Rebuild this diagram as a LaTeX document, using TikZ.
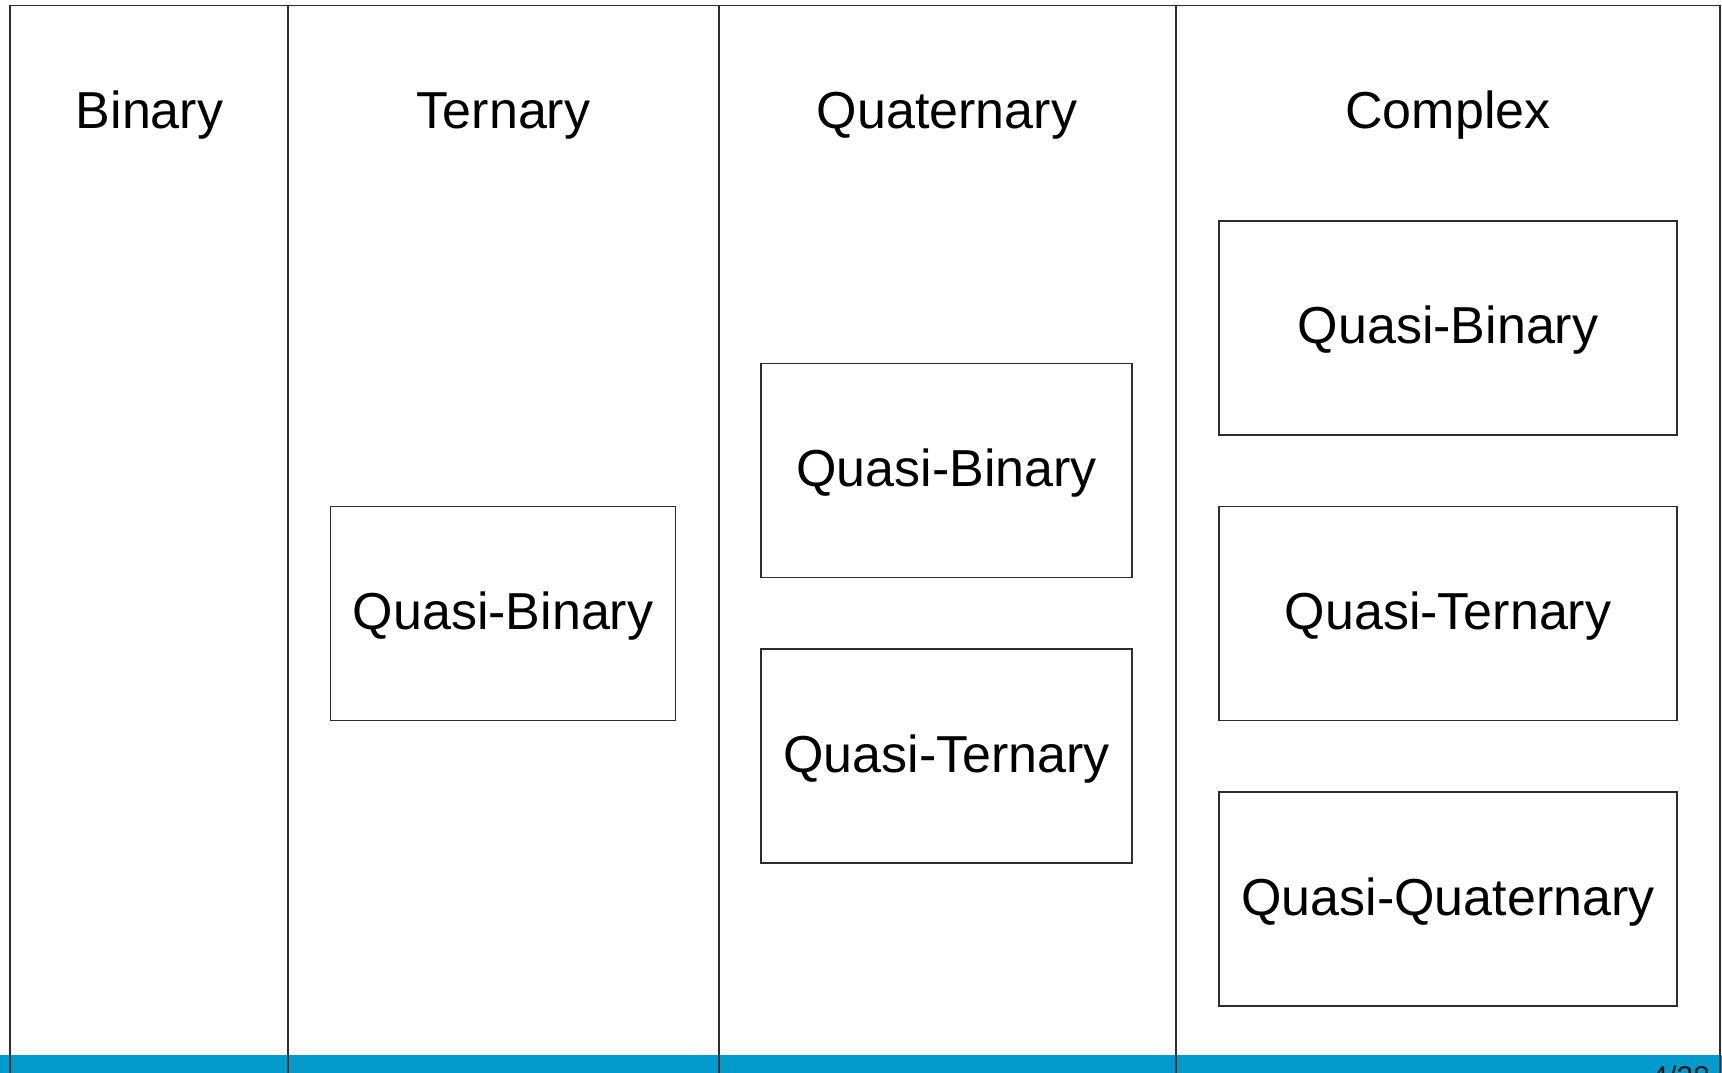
\documentclass[tikz,border=0pt]{standalone}
\usepackage{fontspec}
\setmainfont{Liberation Sans}
\definecolor{barblue}{RGB}{0,154,205}
\definecolor{rulegray}{RGB}{45,45,45}
\begin{document}
\begin{tikzpicture}[x=1pt,y=-1pt,
  rulestyle/.style={draw=rulegray,line width=1.4pt},
  header/.style={font=\fontsize{52}{60}\selectfont,anchor=base,inner sep=0pt},
  classbox/.style={draw=rulegray,line width=1.4pt,inner sep=0pt,
    minimum height=214pt,text height=32pt,text depth=0pt,
    font=\fontsize{52}{60}\selectfont},
  pagenum/.style={font=\fontsize{30}{36}\selectfont,text=black!90,anchor=base east,inner sep=0pt}]
\useasboundingbox (0,0) rectangle (1722,1073);
\clip (0,0) rectangle (1722,1073);

% footer band
\fill[barblue] (0,1055) rectangle (1722,1073);
\node[pagenum] (page) at (1710,1087) {4/28};

% column grid
\coordinate (tl) at (10,5.5);
\coordinate (tr) at (1720,5.5);
\draw[rulestyle] (tl) -- (tr);
\foreach \name/\x in {c0/10,c1/288,c2/719,c3/1176,c4/1720}{
  \coordinate (\name top) at (\x,5.5);
  \coordinate (\name bot) at (\x,1073);
  \draw[rulestyle] (\name top) -- (\name bot);
}

% column headings
\node[header] (hbin)  at (149.5,128.5) {Binary};
\node[header] (hter)  at (503.5,128.5) {Ternary};
\node[header] (hquat) at (947,128.5) {Quaternary};
\node[header] (hcomp) at (1448,128.5) {Complex};

% ternary column
\node[classbox,minimum width=345pt] (terqb) at (503,613.4) {Quasi-Binary};

% quaternary column
\node[classbox,minimum width=371pt] (quatqb) at (946.5,470.5) {Quasi-Binary};
\node[classbox,minimum width=371pt] (quatqt) at (946.5,756.1) {Quasi-Ternary};

% complex column
\node[classbox,minimum width=458pt] (compqb) at (1448,327.8) {Quasi-Binary};
\node[classbox,minimum width=458pt] (compqt) at (1448,613.4) {Quasi-Ternary};
\node[classbox,minimum width=458pt] (compqq) at (1448,899) {Quasi-Quaternary};
\end{tikzpicture}
\end{document}
